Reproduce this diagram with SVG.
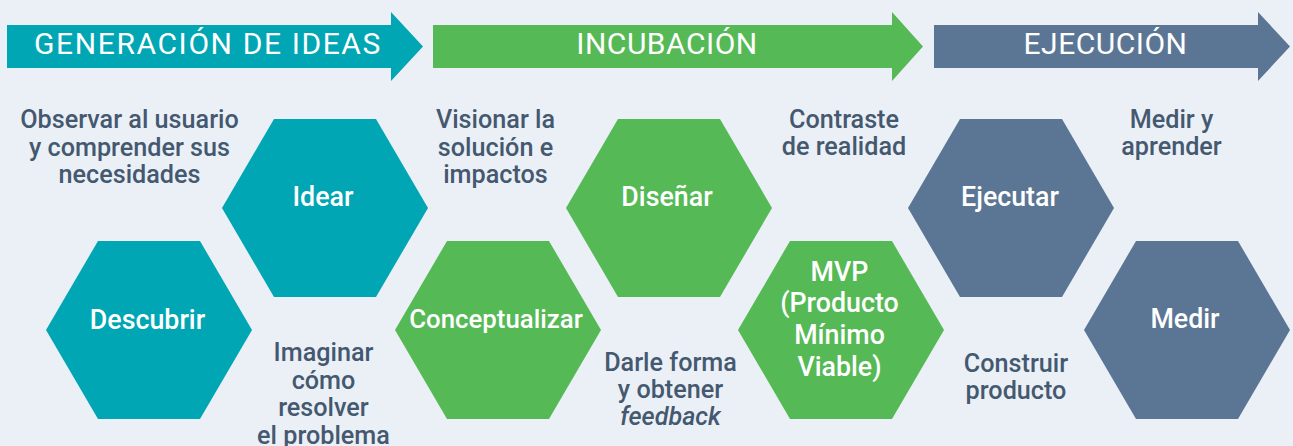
<svg xmlns="http://www.w3.org/2000/svg" width="1293" height="446" viewBox="0 0 1293 446">
<style>
.bg{fill:#ebf0f7}
.teal{fill:#00a6b4}
.green{fill:#55b955}
.slate{fill:#5b7694}
.ban{font-family:Roboto,"Liberation Sans",sans-serif;font-size:30px;fill:#fff;text-anchor:middle;letter-spacing:0.5px}
.hl{font-family:Roboto,"Liberation Sans",sans-serif;font-size:26.8px;fill:#fff;text-anchor:middle;font-weight:500}
.side{font-family:Roboto,"Liberation Sans",sans-serif;font-size:25.2px;fill:#44596f;text-anchor:middle;font-weight:500}
</style>
<defs>
<polygon id="hex" points="-103,0 -51,-89 51,-89 103,0 51,89 -51,89"/>
</defs>
<rect class="bg" x="0" y="0" width="1293" height="446"/>
<g id="banner-generacion">
<polygon class="teal" points="7,25 391,25 391,12 423,46.5 391,81 391,68 7,68"/>
<text class="ban" x="208" y="54" style="letter-spacing:1.6px">GENERACIÓN DE IDEAS</text>
</g>
<g id="banner-incubacion">
<polygon class="green" points="433,25 892,25 892,12 923,46.5 892,81 892,68 433,68"/>
<text class="ban" x="667" y="54">INCUBACIÓN</text>
</g>
<g id="banner-ejecucion">
<polygon class="slate" points="934,25 1258,25 1258,12 1290,46.5 1258,81 1258,68 934,68"/>
<text class="ban" x="1105.5" y="54">EJECUCIÓN</text>
</g>
<g id="descubrir">
<use href="#hex" class="teal" x="149" y="330"/>
<text class="hl" x="147.5" y="329">Descubrir</text>
</g>
<g id="idear">
<use href="#hex" class="teal" x="325" y="208"/>
<text class="hl" x="323" y="206">Idear</text>
</g>
<g id="conceptualizar">
<use href="#hex" class="green" x="498" y="330"/>
<text class="hl" x="496" y="328" style="font-size:25.8px">Conceptualizar</text>
</g>
<g id="disenar">
<use href="#hex" class="green" x="669" y="208"/>
<text class="hl" x="667" y="206">Diseñar</text>
</g>
<g id="mvp">
<use href="#hex" class="green" x="841" y="330"/>
<text class="hl" x="839.5" y="281">MVP</text>
<text class="hl" x="839.5" y="312">(Producto</text>
<text class="hl" x="839.5" y="344">Mínimo</text>
<text class="hl" x="839.5" y="376">Viable)</text>
</g>
<g id="ejecutar">
<use href="#hex" class="slate" x="1011" y="208"/>
<text class="hl" x="1010" y="206">Ejecutar</text>
</g>
<g id="medir">
<use href="#hex" class="slate" x="1187" y="330"/>
<text class="hl" x="1185" y="328">Medir</text>
</g>
<g id="texts">
<text class="side" x="129.5" y="128">Observar al usuario</text>
<text class="side" x="129.5" y="155.5">y comprender sus</text>
<text class="side" x="129.5" y="183">necesidades</text>
<text class="side" x="323.5" y="361">Imaginar</text>
<text class="side" x="323.5" y="388.5">cómo</text>
<text class="side" x="323.5" y="416">resolver</text>
<text class="side" x="323.5" y="443.5">el problema</text>
<text class="side" x="495.5" y="128">Visionar la</text>
<text class="side" x="495.5" y="155.5">solución e</text>
<text class="side" x="495.5" y="183">impactos</text>
<text class="side" x="670.5" y="371">Darle forma</text>
<text class="side" x="670.5" y="398">y obtener</text>
<text class="side" x="670.5" y="425" style="font-style:italic">feedback</text>
<text class="side" x="844" y="128">Contraste</text>
<text class="side" x="844" y="155">de realidad</text>
<text class="side" x="1016" y="372">Construir</text>
<text class="side" x="1016" y="398.5">producto</text>
<text class="side" x="1171.5" y="128">Medir y</text>
<text class="side" x="1171.5" y="154.5">aprender</text>
</g>
</svg>
